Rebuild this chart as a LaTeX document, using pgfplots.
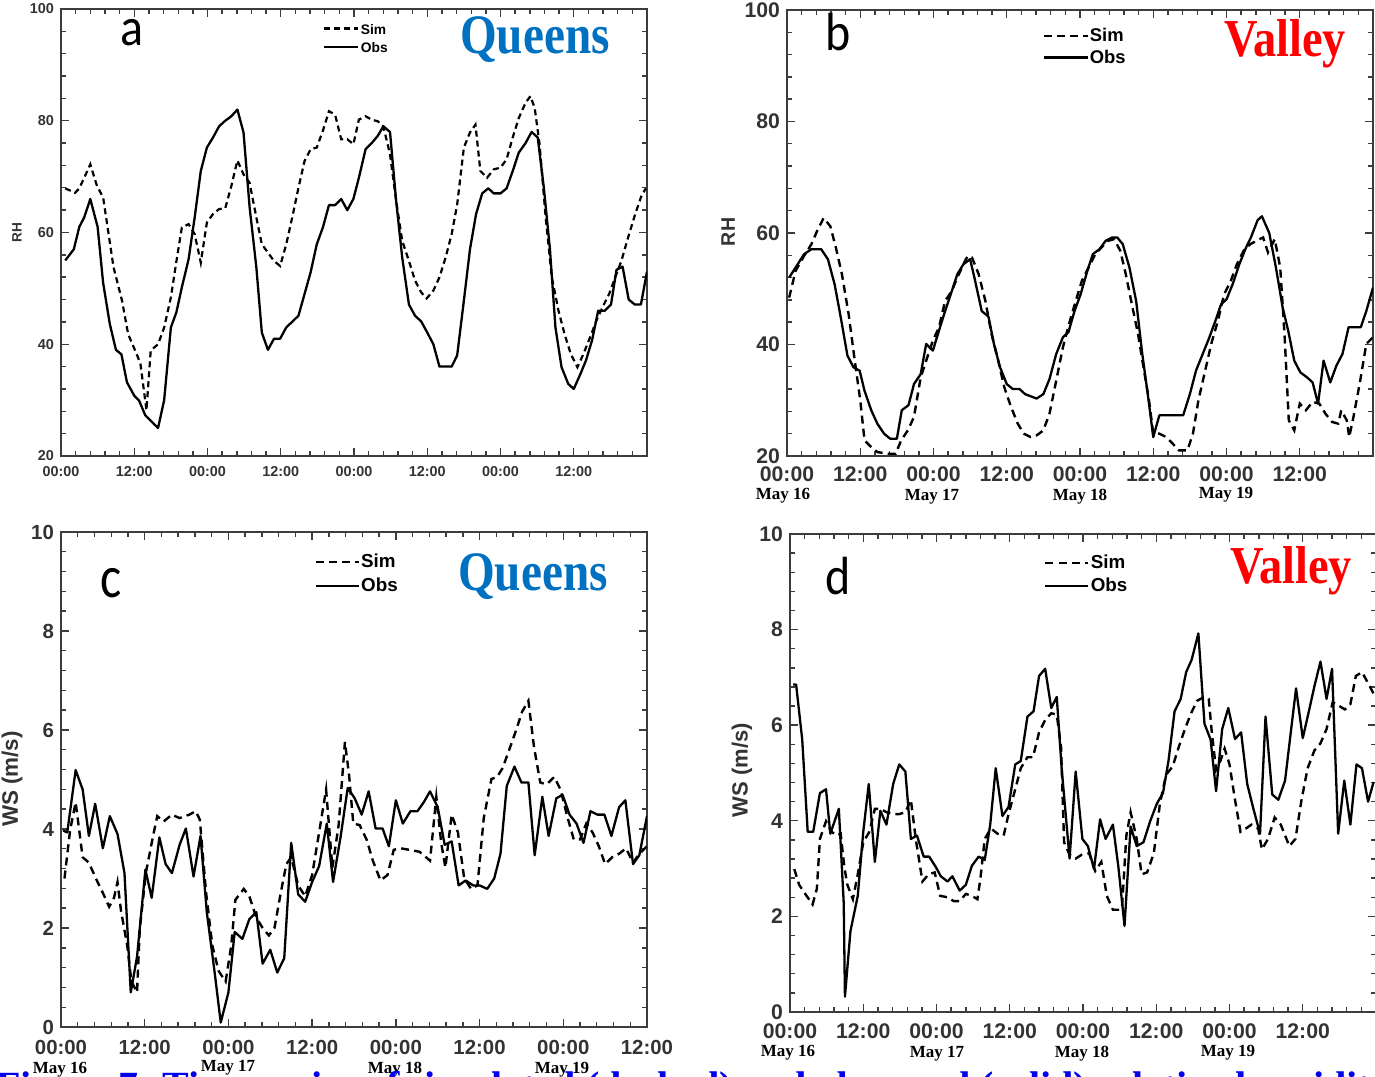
\documentclass[border=0pt]{standalone}
\usepackage{fontspec}
\setmainfont{Liberation Serif}
\setsansfont{Liberation Sans}
\newfontfamily\letterfont{Carlito}
\usepackage{pgfplots}
\pgfplotsset{compat=1.18}
\definecolor{axgray}{HTML}{3C3C3C}
\definecolor{labgray}{HTML}{333333}
\definecolor{qblue}{HTML}{0070C0}
\definecolor{vred}{HTML}{FF0000}
\definecolor{capblue}{HTML}{0000EE}
\tikzset{
  obsline/.style={black, line width=1.15pt, line join=round},
  simA/.style={black, line width=1.1pt, dash pattern=on 3pt off 2pt},
  simB/.style={black, line width=1.2pt, dash pattern=on 4pt off 2.6pt},
}
\pgfplotsset{
  panel/.style={
    scale only axis,
    anchor=south west,
    xmin=0, xmax=96,
    axis line style={draw=axgray, line width=1pt},
    every tick/.style={draw=axgray, line width=0.7pt},
    tick align=inside,
    major tick length=4.2pt,
    minor tick length=2.6pt,
    minor x tick num=4,
    minor y tick num=4,
    xtick={0,12,...,96},
    xticklabels={00:00,12:00,00:00,12:00,00:00,12:00,00:00,12:00,{}},
    tick label style={text=labgray},
    clip mode=individual,
    legend cell align=left,
    legend style={draw=none, fill=none, inner sep=0pt, anchor=north west,
      nodes={inner sep=0.6pt, text height=0.75em, text depth=0.2em}},
  },
}
\begin{document}
\begin{tikzpicture}
\useasboundingbox (0,0) rectangle (687.5pt,538pt);
\clip (0,0) rectangle (687.5pt,538pt);

% ---------------- panel a ----------------
\begin{axis}[panel, at={(30.5pt,310pt)}, width=293pt, height=223.5pt,
  ymin=20, ymax=100, ytick={20,40,...,100}, yticklabels={20,40,60,80,100},
  tick label style={font=\sffamily\bfseries\fontsize{7.2}{8}\selectfont},
  xticklabel style={yshift=-1.5pt},
  legend style={at={(axis description cs:0.447,0.981)},
    font=\sffamily\bfseries\fontsize{6.9}{8}\selectfont, row sep=-1.6pt},
  legend image code/.code={\draw[#1] (0pt,0pt) -- (17pt,0pt);}]
\addplot[simA] coordinates {(0.7,67.9)(2.3,67.1)(3,67.9)(3.8,69.8)(4.8,72.2)(5.9,68.3)(6.9,66.3)(7.8,59.7)(8.6,53.8)(10,47.8)(11,41.8)(12.1,39)(13,36.6)(13.8,29.9)(14,28.2)(14.7,38.9)(15.9,40)(16.9,43)(18,48.4)(19,55.5)(19.8,60.9)(20.9,61.5)(21.9,59.7)(22.9,54.6)(23.9,61.8)(24.9,63.3)(25.9,64.2)(26.9,64.3)(27.9,68.3)(28.9,72.9)(29.9,70.4)(30.9,68.9)(32,62.7)(32.9,57.9)(33.9,56.4)(34.9,54.9)(35.9,54)(36.9,57.9)(38,63.3)(38.9,68)(39.9,72.8)(40.9,74.9)(41.9,75.2)(42.9,78.2)(43.9,81.7)(44.9,81.1)(45.9,76.7)(46.9,76.7)(47.9,75.8)(48.8,80.2)(49.9,80.8)(50.9,80.2)(51.9,79.9)(52.8,79)(53.9,74)(54.9,65.7)(55.9,58.5)(57,54.9)(58,51.4)(59,49.3)(59.9,48.2)(61,49.6)(62,52)(63,55.5)(64,59.7)(64.9,65)(66,75.2)(67,77.9)(67.9,79.3)(68.7,71)(69.8,69.8)(70.9,71.3)(72,71.6)(73,73.1)(74,77)(75,80.5)(76.1,83.2)(76.9,84.4)(77.6,82.3)(78.4,75.8)(79.4,62.7)(80.4,52)(81.5,46)(82.5,41.8)(83.5,38.3)(84.6,35.9)(85.6,38.3)(86.7,41.3)(87.7,44.2)(88.7,46.6)(89.8,49)(90.8,52)(91.8,54.9)(92.9,59.1)(93.9,62.7)(95,66.3)(95.8,67.9)};
\addlegendentry{Sim}
\addplot[obsline] coordinates {(0.7,55)(2.1,57)(3,61)(3.8,62.7)(4.8,66)(6,61)(6.9,51)(8,43.6)(9,39)(9.9,38.2)(10.8,33.2)(12,30.8)(12.8,29.9)(13.8,27.3)(15.9,25)(16.9,30)(18,43)(18.9,45.7)(19.8,50.2)(20.9,55.2)(21.9,62.7)(22.9,71)(23.9,75.2)(24.9,77)(25.9,79)(26.9,80)(27.9,80.8)(28.9,82)(29.9,77.9)(30.9,64.5)(32,53.8)(32.9,42.1)(33.9,39)(34.9,41)(35.9,41)(36.9,43)(38.9,45.1)(39.9,49)(40.9,52.9)(41.9,57.9)(42.9,60.9)(43.9,64.9)(44.9,64.9)(45.9,66)(46.9,64)(47.9,66)(48.8,69.8)(49.9,74.9)(50.9,76)(51.9,77.3)(52.8,79)(53.9,78)(54.9,65.7)(55.9,55.5)(57,47.1)(58,45.1)(59,44.1)(59.9,42.3)(61,40)(62,36)(64,36)(64.9,38)(66,47.8)(67,57)(68,63.3)(69,67)(70,67.9)(70.9,67)(72,67)(73,67.9)(74,71)(75,74.3)(76.1,76)(77.1,78)(78.1,77)(79.1,68)(80.1,57)(81,43)(82,35.9)(83.1,32.9)(84,32)(85.1,34.7)(86,37.1)(87,40.7)(88,46)(89.1,46)(90.1,47.1)(91,53.3)(92,53.9)(93,48)(94,47.1)(95,47.1)(96,53)};
\addlegendentry{Obs}
\end{axis}

% ---------------- panel b ----------------
\begin{axis}[panel, at={(393.5pt,310pt)}, width=293pt, height=223pt,
  ymin=20, ymax=100, ytick={20,40,...,100}, yticklabels={20,40,60,80,100},
  tick label style={font=\sffamily\bfseries\fontsize{10.6}{12}\selectfont},
  xticklabel style={yshift=-2pt},
  legend style={at={(axis description cs:0.435,0.967)},
    font=\sffamily\bfseries\fontsize{9.2}{11}\selectfont, row sep=0.2pt},
  legend image code/.code={\draw[#1] (0pt,0pt) -- (22pt,0pt);}]
\addplot[simB] coordinates {(0.35,48.4)(1.4,53.2)(2.8,55.9)(4,58)(4.9,60.3)(6,62.7)(7.1,61.2)(8,57.4)(9,52.6)(10.1,45.4)(11.1,37.1)(12,30)(12.7,22.8)(13.8,21.6)(14.8,20.7)(16.6,20.4)(17.8,20.4)(18.7,22.8)(19.8,24.6)(20.8,27)(21.9,34.1)(22.8,37.1)(23.9,40.7)(24.9,43.1)(25.9,47.8)(27,49.6)(27.9,52)(28.9,54.4)(29.6,55.9)(30.3,55.6)(31.4,52.6)(32.5,47.8)(33.5,41.9)(34.6,37.1)(35.6,32.3)(36.7,28.8)(37.8,25.8)(38.8,24)(39.9,23.4)(40.9,23.7)(42,24.6)(43,27.6)(44.1,33.5)(45.2,39.5)(46.2,43.7)(47.3,47.8)(48.3,51.4)(49.4,53.8)(50.5,56.2)(51.5,57.4)(52.6,58.6)(53.6,58.9)(54.6,56.8)(55.5,52.6)(56.5,47.2)(57.5,41.9)(58.4,35.9)(59.3,30)(60,24)(61,24)(62.1,23.4)(63.2,22.2)(64.2,21)(65.6,21)(66.5,24)(67.4,30)(68.5,35.3)(69.5,40.1)(70.6,44.3)(71.6,49)(72.7,51.4)(73.7,54.4)(74.8,56.8)(75.9,58)(76.9,58.6)(78,59.2)(78.8,56.5)(79.9,58.9)(80.8,53.8)(81.5,41.9)(82.2,26.4)(83.1,24.6)(84,29.4)(85,28.2)(86.1,29.7)(87.2,29.4)(88.2,27.6)(89.3,26.1)(90.3,25.8)(90.8,28.2)(91.7,26.4)(92.1,23.4)(92.8,27)(93.9,33.5)(94.9,40.1)(96,41.3)};
\addlegendentry{Sim}
\addplot[obsline] coordinates {(0.35,52)(1.4,53.8)(2.8,56.2)(4,57.1)(5.6,57.1)(6.7,55.3)(7.8,50.8)(8.8,44.9)(9.9,38)(10.9,35.9)(11.9,35.3)(12.7,31.7)(13.8,28.2)(14.8,25.8)(15.9,24)(16.9,23.1)(18,23.1)(18.8,28.2)(19.9,29.1)(20.8,32.9)(21.9,34.7)(22.8,40.1)(23.9,38.9)(24.9,42.5)(25.9,46)(27,49.6)(27.9,52.6)(28.9,54.4)(30,55.3)(30.7,52)(31.9,46)(33,45)(33.9,40.1)(34.9,35.9)(36,32.9)(37,32)(38.1,32)(39,31.1)(40.9,30.3)(42,31.1)(43,33.8)(44.1,38.3)(45.2,41.3)(46.1,42.2)(47.1,46)(48.1,49)(49.2,53.2)(50.1,56.2)(51.2,57.1)(52.2,58.6)(53.3,59.2)(54.1,59.2)(55,58)(56.1,53.8)(57.2,47.8)(58.2,38.3)(59.1,31.1)(60,23.4)(61,27.3)(62.1,27.3)(63.9,27.3)(64.9,27.3)(66,31.1)(67,35.3)(68.1,38.3)(69.2,41.3)(70.2,44.3)(71.1,47.2)(72,48.1)(73,50.8)(74.1,54.4)(75.2,57.4)(76,59.2)(77.1,62.3)(77.8,63)(79,60)(80.1,53.8)(81.2,46.6)(82.1,42.5)(83.1,37.1)(84.1,35)(85.2,34.1)(86.1,33.2)(87,29.4)(87.9,37.1)(89,33.2)(90,36.2)(91,38.3)(92,43.1)(92.9,43.1)(94,43.1)(94.9,46)(96,50.2)};
\addlegendentry{Obs}
\end{axis}

% ---------------- panel c ----------------
\begin{axis}[panel, at={(30.5pt,24.5pt)}, width=293pt, height=247.5pt,
  xmax=84,
  ymin=0, ymax=10, ytick={0,2,...,10}, yticklabels={0,2,4,6,8,10},
  tick label style={font=\sffamily\bfseries\fontsize{10.2}{12}\selectfont},
  xticklabel style={yshift=-3pt},
  legend style={at={(axis description cs:0.432,0.962)},
    font=\sffamily\bfseries\fontsize{9.4}{11}\selectfont, row sep=1.3pt},
  legend image code/.code={\draw[#1] (0pt,0pt) -- (21.5pt,0pt);}]
\addplot[simB] coordinates {(0.5,3)(1.3,3.97)(2.1,4.54)(3.1,3.43)(4,3.32)(5,3)(6,2.71)(6.9,2.43)(7.6,2.61)(8.1,2.93)(8.6,2.35)(9.5,1.64)(10.1,0.92)(10.9,0.7)(11.3,2)(12.2,3.14)(13.2,3.86)(13.8,4.26)(14.7,4.15)(15.9,4.29)(17,4.22)(18.4,4.29)(19.3,4.36)(19.9,4.19)(20.8,2.71)(21.7,1.64)(22.6,1.13)(23.6,0.92)(24.4,1.64)(25,2.57)(26.2,2.79)(27,2.64)(28,2.21)(28.9,2)(29.8,1.85)(30.6,2)(31.5,2.71)(32.3,3.29)(33,3.43)(34,2.86)(35,2.64)(36,3.07)(37,3.93)(38,4.8)(38.9,3.22)(39.8,4.08)(40.7,5.76)(41.3,5.08)(41.9,4.11)(42.8,4.08)(43.8,3.79)(44.7,3.36)(45.8,2.96)(46.8,3.07)(47.7,3.58)(48.7,3.61)(49.9,3.58)(51.4,3.54)(52.9,3.36)(53.8,4.65)(54.5,3.72)(55.1,3.22)(56,4.29)(56.9,3.93)(57.8,3)(58.8,2.79)(59.7,2.86)(60.6,4.22)(61.7,5.01)(62.5,5.05)(63.3,5.23)(64.4,5.66)(65.2,5.98)(66.1,6.37)(67,6.59)(67.8,5.66)(68.7,4.94)(69.6,4.9)(70.7,5.05)(71.6,4.8)(72.5,4.29)(73.5,3.79)(74.4,3.79)(75.3,4.11)(76.2,3.93)(77.1,3.65)(78,3.29)(79,3.43)(80,3.5)(81,3.61)(82,3.32)(82.9,3.5)(84,3.65)};
\addlegendentry{Sim}
\addplot[obsline] coordinates {(0.3,3.97)(0.9,3.93)(2.1,5.19)(3.1,4.8)(4,3.86)(4.9,4.51)(6,3.61)(7,4.26)(8.1,3.9)(9.1,3.11)(10,0.7)(10.9,1.42)(12.1,3.18)(13,2.61)(14.1,3.83)(15,3.29)(15.9,3.11)(17,3.68)(17.9,4.01)(19,3.04)(20,3.86)(20.9,2.32)(22,1.13)(22.9,0.09)(24,0.7)(24.9,1.92)(26,1.78)(27,2.18)(28,2.32)(28.9,1.28)(30,1.56)(31,1.1)(32,1.39)(33,3.72)(34,2.68)(35,2.53)(36,2.93)(37,3.25)(38.1,4.11)(39,2.93)(40.1,3.86)(41.1,4.83)(42.1,4.62)(43.1,4.29)(44.1,4.76)(45.1,4.01)(46.1,4.01)(47,3.65)(48,4.58)(49,4.11)(50.1,4.36)(51.1,4.36)(52,4.54)(52.9,4.76)(54,4.44)(55,3.68)(56,3.75)(57,2.86)(58,2.96)(59.1,2.86)(60,2.86)(61.1,2.79)(62.1,3)(63,3.5)(63.9,4.87)(65,5.26)(66,4.94)(67,4.94)(67.9,3.47)(69,4.65)(69.9,3.86)(71,4.62)(71.9,4.69)(72.9,4.29)(73.9,4.11)(74.9,3.72)(75.9,4.36)(76.9,4.29)(77.9,4.29)(78.9,3.86)(80,4.44)(80.9,4.58)(82,3.29)(82.9,3.47)(84,4.26)};
\addlegendentry{Obs}
\end{axis}

% ---------------- panel d ----------------
\begin{axis}[panel, at={(395pt,32pt)}, width=293pt, height=239pt,
  ymin=0, ymax=10, ytick={0,2,...,10}, yticklabels={0,2,4,6,8,10},
  tick label style={font=\sffamily\bfseries\fontsize{10.6}{12}\selectfont},
  xticklabel style={yshift=-2.5pt},
  legend style={at={(axis description cs:0.433,0.962)},
    font=\sffamily\bfseries\fontsize{9.4}{11}\selectfont, row sep=0.8pt},
  legend image code/.code={\draw[#1] (0pt,0pt) -- (21.5pt,0pt);}]
\addplot[simB] coordinates {(0.7,2.99)(1.5,2.66)(2.5,2.47)(3.7,2.25)(4.4,2.58)(4.9,3.62)(5.9,3.99)(6.8,3.77)(7.7,3.69)(8.3,3.73)(8.9,3.03)(9.4,2.66)(10.3,2.36)(11.1,2.88)(12,3.55)(13,3.77)(13.9,4.25)(14.8,4.25)(15.8,4.18)(16.9,4.14)(17.9,4.14)(18.9,4.18)(19.8,4.44)(20.6,3.62)(21.7,2.73)(22.7,2.88)(23.7,2.92)(24.6,2.43)(25.8,2.4)(26.8,2.32)(27.8,2.32)(28.8,2.47)(29.8,2.43)(30.7,2.36)(31.2,2.8)(31.9,3.62)(32.9,3.84)(34,3.73)(35,3.69)(35.8,4.14)(36.9,4.66)(37.8,5.1)(38.9,5.33)(39.8,5.33)(40.8,5.85)(41.8,6.11)(42.8,6.25)(43.7,6.22)(44.4,5.55)(44.9,3.55)(45.8,3.29)(46.8,3.21)(47.8,3.29)(49,3.32)(50,2.95)(51,3.14)(51.9,2.43)(52.9,2.14)(54,2.14)(54.4,2.21)(55.1,3.69)(55.8,4.18)(56.8,3.62)(57.6,2.88)(58.5,2.92)(59.6,3.32)(60.6,4.36)(61.6,4.96)(62.7,5.14)(63.7,5.55)(64.7,5.92)(65.7,6.25)(66.7,6.51)(67.8,6.59)(68.6,6.55)(69.1,5.85)(69.8,5.07)(70.5,5.25)(71.2,5.51)(72,5.18)(72.9,4.44)(73.8,3.77)(74.7,3.84)(75.6,3.92)(76.7,3.84)(77.3,3.4)(78.3,3.62)(79.4,4.07)(80.4,3.92)(81.8,3.47)(82.8,3.62)(83.8,4.44)(84.8,5.1)(85.9,5.47)(86.9,5.62)(87.9,5.92)(88.9,6.48)(90,6.4)(90.9,6.33)(91.8,6.44)(92.7,7.03)(93.7,7.11)(94.7,6.88)(95.6,6.66)};
\addlegendentry{Sim}
\addplot[obsline] coordinates {(0.5,6.85)(1,6.85)(2,5.7)(2.9,3.77)(3.8,3.77)(4.9,4.58)(5.9,4.66)(6.6,3.73)(8,4.25)(8.8,2.28)(9,0.32)(9.9,1.69)(11.1,2.43)(12,3.77)(12.9,4.77)(13.9,3.14)(14.8,4.21)(15.8,3.92)(16.9,4.77)(17.9,5.18)(18.9,5.03)(19.8,3.62)(20.8,3.69)(21.9,3.25)(22.8,3.25)(23.9,3.03)(24.7,2.84)(25.8,2.73)(26.6,2.84)(27.8,2.54)(28.8,2.66)(29.8,3.06)(30.9,3.25)(31.9,3.18)(32.8,3.92)(33.7,5.1)(34.8,4.1)(35.8,4.29)(36.9,5.18)(37.8,5.25)(38.9,6.18)(39.9,6.29)(40.8,7.03)(41.8,7.18)(42.8,6.36)(43.7,6.59)(44.5,5.1)(45.8,3.21)(46.8,5.03)(47.9,3.62)(48.8,3.47)(49.8,2.99)(50.8,4.03)(51.7,3.62)(52.9,3.92)(53.8,3.03)(54.8,1.8)(55.8,3.88)(56.8,3.47)(57.9,3.55)(59,3.99)(60.1,4.36)(61.1,4.58)(62,5.25)(63,6.29)(64,6.55)(64.9,7.11)(65.8,7.37)(66.9,7.92)(67.9,6.03)(68.9,5.7)(69.8,4.62)(70.8,5.92)(71.8,6.36)(72.9,5.71)(73.9,5.85)(74.9,4.77)(76,4.21)(77,3.73)(77.9,6.18)(79,4.55)(80,4.44)(81.1,4.84)(82,5.81)(82.9,6.77)(84,5.73)(85,6.29)(85.9,6.81)(86.9,7.33)(87.9,6.55)(88.8,7.18)(89.8,3.73)(90.8,4.84)(91.8,3.92)(92.8,5.18)(93.7,5.1)(94.7,4.4)(95.6,4.81)};
\addlegendentry{Obs}
\end{axis}

% ---------------- texts (pixel coordinates of the reference) ----------------
\begin{scope}[x=0.5pt, y=-0.5pt, yshift=538pt]
  % axis titles
  \node[rotate=90, font=\sffamily\bfseries\fontsize{6.8}{8}\selectfont, text=labgray] at (17,233) {RH};
  \node[rotate=90, font=\sffamily\bfseries\fontsize{9.8}{11}\selectfont, text=labgray] at (728,232) {RH};
  \node[rotate=90, font=\sffamily\bfseries\fontsize{11.2}{13}\selectfont, text=labgray] at (12,779) {WS (m/s)};
  \node[rotate=90, font=\sffamily\bfseries\fontsize{11}{13}\selectfont, text=labgray] at (742,770) {WS (m/s)};
  % panel letters
  \node[font=\letterfont\fontsize{24}{26}\selectfont] at (132,33) {\scalebox{1}[1.12]{a}};
  \node[font=\letterfont\fontsize{24}{26}\selectfont] at (838,32) {\scalebox{1}[1.12]{b}};
  \node[font=\letterfont\fontsize{25}{27}\selectfont] at (111,583) {\scalebox{1}[1.2]{c}};
  \node[font=\letterfont\fontsize{24}{26}\selectfont] at (838,576) {\scalebox{1}[1.12]{d}};
  % station names
  \node[font=\rmfamily\bfseries\fontsize{23.6}{26}\selectfont, text=qblue] at (535,40) {\scalebox{1}[1.18]{Queens}};
  \node[font=\rmfamily\bfseries\fontsize{23.2}{26}\selectfont, text=vred] at (1285,44) {\scalebox{1}[1.15]{Valley}};
  \node[font=\rmfamily\bfseries\fontsize{23.6}{26}\selectfont, text=qblue] at (533,577) {\scalebox{1}[1.18]{Queens}};
  \node[font=\rmfamily\bfseries\fontsize{23.2}{26}\selectfont, text=vred] at (1291,571) {\scalebox{1}[1.15]{Valley}};
  % date labels
  \foreach \xx/\yy/\dd in {783/496/16, 932/497/17, 1080/497/18, 1226/495/19,
                           788/1053/16, 937/1054/17, 1082/1054/18, 1228/1053/19,
                           60/1070/16, 228/1068/17, 395/1070/18, 562/1070/19}
    \node[font=\rmfamily\bfseries\fontsize{8.5}{10}\selectfont] at (\xx,\yy) {May \dd};
  % cut-off caption below the figure (only the tops of its tall letters show)
  \node[anchor=base west, inner sep=0pt, font=\rmfamily\bfseries\fontsize{20}{22}\selectfont, text=capblue]
    at (-4,1099) {Figure 7. Time series of simulated (dashed) and observed (solid) relative humidity};
\end{scope}
\end{tikzpicture}
\end{document}
